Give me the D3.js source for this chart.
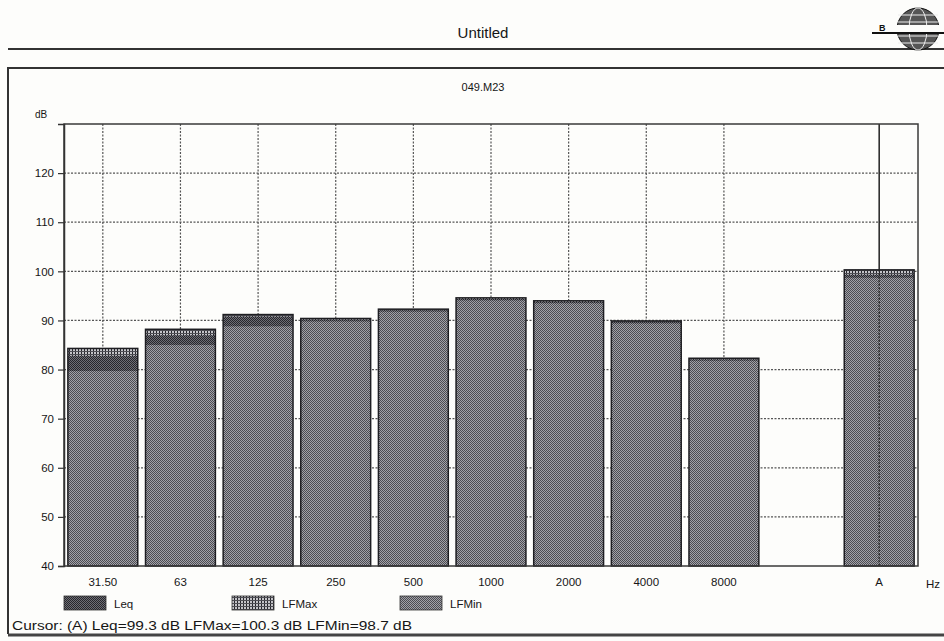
<!DOCTYPE html>
<html>
<head>
<meta charset="utf-8">
<script src="https://cdn.jsdelivr.net/npm/d3@7"></script>
<style>
  html, body { margin: 0; padding: 0; background: #fdfdfb; }
  svg { display: block; font-family: "Liberation Sans", Arial, sans-serif; }
</style>
</head>
<body>
<svg id="chart" width="944" height="641"></svg>
<script>
// Octave bands plus the A-weighted total
const bands = ["31.50", "63", "125", "250", "500", "1000", "2000", "4000", "8000"];
const totalLabel = "A";
// Levels in dB per band (last entry = A total)
const lfmax = [84.3, 88.2, 91.2, 90.4, 92.3, 94.6, 94.0, 89.9, 82.3, 100.3];
const leq   = [82.8, 87.0, 90.8, 90.2, 92.1, 94.4, 93.8, 89.7, 82.1, 99.3];
const lfmin = [79.7, 85.0, 88.8, 89.8, 91.8, 94.1, 93.5, 89.4, 81.8, 98.7];
const yTicks = [40, 50, 60, 70, 80, 90, 100, 110, 120];
const seriesNames = ["Leq", "LFMax", "LFMin"];

const svg = d3.select("#chart");
const defs = svg.append("defs");
const ink = "#161616";

// Fill patterns imitating the printout hatching
function checker(id, dark, light) {
  const p = defs.append("pattern").attr("id", id)
    .attr("width", 2).attr("height", 2).attr("patternUnits", "userSpaceOnUse");
  p.append("rect").attr("width", 2).attr("height", 2).attr("fill", light);
  p.append("rect").attr("width", 1).attr("height", 1).attr("fill", dark);
  p.append("rect").attr("x", 1).attr("y", 1).attr("width", 1).attr("height", 1).attr("fill", dark);
}
checker("pMin", "#4c4c52", "#a2a2a8");
checker("pLeq", "#26262c", "#6e6e74");
(function () {
  const p = defs.append("pattern").attr("id", "pMax")
    .attr("width", 3).attr("height", 3).attr("patternUnits", "userSpaceOnUse");
  p.append("rect").attr("width", 3).attr("height", 3).attr("fill", "#c4c4c8");
  p.append("rect").attr("width", 1).attr("height", 3).attr("fill", "#26262c");
  p.append("rect").attr("width", 3).attr("height", 1).attr("fill", "#4e4e54");
})();
const fills = { Leq: "url(#pLeq)", LFMax: "url(#pMax)", LFMin: "url(#pMin)" };

// Header
svg.append("text").attr("x", 483).attr("y", 38).attr("text-anchor", "middle")
  .attr("font-size", 15).attr("fill", ink).text("Untitled");
svg.append("line").attr("x1", 8).attr("x2", 944).attr("y1", 49).attr("y2", 49)
  .attr("stroke", "#333").attr("stroke-width", 2);
// Logo: globe emblem
const logo = svg.append("g").attr("transform", "translate(918,29)");
logo.append("circle").attr("r", 21).attr("fill", "#555").attr("stroke", "#111");
[-14, -7, 0, 7, 14].forEach(dy => logo.append("line")
  .attr("x1", -20).attr("x2", 20).attr("y1", dy).attr("y2", dy)
  .attr("stroke", "#eee").attr("stroke-width", 1.2));
logo.append("ellipse").attr("rx", 9).attr("ry", 21).attr("fill", "none").attr("stroke", "#eee");
logo.append("rect").attr("x", -40).attr("y", -4).attr("width", 80).attr("height", 8).attr("fill", "#fdfdfb");
logo.append("line").attr("x1", -46).attr("x2", 30).attr("y1", 4).attr("y2", 4).attr("stroke", "#111").attr("stroke-width", 2);
logo.append("text").attr("x", -39).attr("y", 2).attr("font-size", 9).attr("font-weight", "bold").attr("fill", "#111").text("B");

// Outer frame
svg.append("path").attr("d", "M8,634 L8,68 L944,68").attr("fill", "none")
  .attr("stroke", "#333").attr("stroke-width", 2);
svg.append("line").attr("x1", 8).attr("x2", 944).attr("y1", 635).attr("y2", 635)
  .attr("stroke", "#444").attr("stroke-width", 3);

svg.append("text").attr("x", 483).attr("y", 91).attr("text-anchor", "middle")
  .attr("font-size", 11).attr("fill", ink).text("049.M23");

// Plot area
const plotLeft = 64, plotRight = 918, plotTop = 124, plotBottom = 566;
const y = d3.scaleLinear().domain([40, 130]).range([plotBottom, plotTop]);
const slots = [...bands, " ", totalLabel];
const x = d3.scaleBand().domain(slots).range([plotLeft, plotRight]).paddingInner(0.1).paddingOuter(0.05);
const keys = [...bands, totalLabel];

svg.append("text").attr("x", 35).attr("y", 118).attr("font-size", 10).attr("fill", ink).text("dB");

// Horizontal dotted grid
svg.append("g").selectAll("line").data(yTicks.filter(t => t > 40)).join("line")
  .attr("x1", plotLeft).attr("x2", plotRight)
  .attr("y1", d => y(d)).attr("y2", d => y(d))
  .attr("stroke", "#555").attr("stroke-width", 1.2).attr("stroke-dasharray", "2,1.5");

// Vertical dotted grid at band centres
svg.append("g").selectAll("line").data(bands).join("line")
  .attr("x1", d => x(d) + x.bandwidth() / 2).attr("x2", d => x(d) + x.bandwidth() / 2)
  .attr("y1", plotTop).attr("y2", plotBottom)
  .attr("stroke", "#555").attr("stroke-width", 1.2).attr("stroke-dasharray", "2,1.5");

// Bars: LFMax behind, Leq, then LFMin in front
const layers = [["LFMax", lfmax], ["Leq", leq], ["LFMin", lfmin]];
const barG = svg.append("g");
keys.forEach((k, i) => {
  layers.forEach(([name, vals]) => {
    barG.append("rect")
      .attr("x", x(k)).attr("width", x.bandwidth())
      .attr("y", y(vals[i])).attr("height", y(40) - y(vals[i]))
      .attr("fill", fills[name]);
  });
  // outline around the whole bar
  barG.append("rect")
    .attr("x", x(k)).attr("width", x.bandwidth())
    .attr("y", y(lfmax[i])).attr("height", y(40) - y(lfmax[i]))
    .attr("fill", "none").attr("stroke", "#1e1e22").attr("stroke-width", 1.5);
});

// Cursor line at the A total
const ai = keys.length - 1;
const cx = x(totalLabel) + x.bandwidth() / 2;
svg.append("line").attr("x1", cx).attr("x2", cx).attr("y1", plotTop).attr("y2", y(lfmax[ai]))
  .attr("stroke", "#222").attr("stroke-width", 1.5);
svg.append("line").attr("x1", cx).attr("x2", cx).attr("y1", y(lfmax[ai])).attr("y2", plotBottom)
  .attr("stroke", "#222").attr("stroke-width", 1.3).attr("stroke-dasharray", "2,1.5");

// Plot border
svg.append("rect").attr("x", plotLeft).attr("y", plotTop)
  .attr("width", plotRight - plotLeft).attr("height", plotBottom - plotTop)
  .attr("fill", "none").attr("stroke", "#3a3a3a").attr("stroke-width", 1.5);

// Y axis
const yAxis = svg.append("g").attr("transform", `translate(${plotLeft},0)`)
  .call(d3.axisLeft(y).tickValues(yTicks).tickSize(6).tickPadding(4));
yAxis.select(".domain").attr("stroke", "#333").attr("stroke-width", 1.5);
yAxis.selectAll(".tick line").attr("stroke", "#333").attr("stroke-width", 1.2);
yAxis.selectAll(".tick text").attr("font-size", 11.5).attr("fill", ink)
  .attr("font-family", "Liberation Sans, Arial, sans-serif");

// X labels
const xAxis = svg.append("g").attr("transform", `translate(0,${plotBottom})`)
  .call(d3.axisBottom(x).tickValues(keys).tickSize(0).tickPadding(12));
xAxis.select(".domain").remove();
xAxis.selectAll(".tick text").attr("font-size", 11.5).attr("fill", ink)
  .attr("font-family", "Liberation Sans, Arial, sans-serif");
svg.append("text").attr("x", 926).attr("y", 588).attr("font-size", 11.5).attr("fill", ink).text("Hz");

// Legend
const legendX = [64, 232, 400];
seriesNames.forEach((name, i) => {
  svg.append("rect").attr("x", legendX[i]).attr("y", 596).attr("width", 42).attr("height", 14)
    .attr("fill", fills[name]).attr("stroke", "#333").attr("stroke-width", 0.8);
  svg.append("text").attr("x", legendX[i] + 50).attr("y", 608).attr("font-size", 11.5)
    .attr("fill", ink).text(name);
});

// Cursor readout
svg.append("text").attr("x", 12).attr("y", 630).attr("font-size", 12).attr("fill", ink)
  .attr("textLength", 400).attr("lengthAdjust", "spacingAndGlyphs")
  .text(`Cursor: (A)  Leq=${leq[ai]} dB  LFMax=${lfmax[ai]} dB  LFMin=${lfmin[ai]} dB`);
</script>
</body>
</html>
